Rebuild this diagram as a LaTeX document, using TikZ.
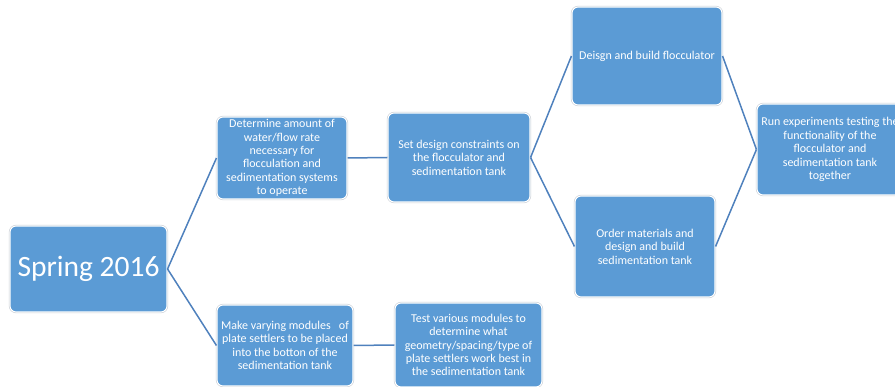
\documentclass[tikz,border=0pt]{standalone}
\usepackage{fontspec}
\setmainfont{Carlito}
\definecolor{boxfill}{RGB}{91,155,213}
\definecolor{linkcol}{RGB}{79,129,189}
\definecolor{rimcol}{RGB}{200,205,212}
\begin{document}
\begin{tikzpicture}[x=1pt,y=-1pt,
  box/.style={rectangle, rounded corners=6pt, fill=boxfill, draw=white, line width=1.1pt,
    preaction={draw=rimcol, line width=2.2pt},
    text=white, align=center, inner sep=0pt,
    font=\fontsize{12}{13.4}\selectfont},
  link/.style={draw=linkcol, line width=1.5pt}]
\useasboundingbox (0,0) rectangle (895,387);
\begin{scope}
\clip (0,0) rectangle (895,387);
\node[box, minimum width=157pt, minimum height=86pt, font=\fontsize{29.5}{31}\selectfont] (spring) at (88.5,269) {Spring 2016};
\node[box, minimum width=130pt, minimum height=82pt] (det) at (282,158) {Determine amount of\\water/flow rate\\necessary for\\flocculation and\\sedimentation systems\\to operate};
\node[box, minimum width=142pt, minimum height=89pt] (set) at (459,157.5) {Set design constraints on\\the flocculator and\\sedimentation tank};
\node[box, minimum width=150pt, minimum height=98pt] (floc) at (647,56) {Deisgn and build flocculator};
\node[box, minimum width=140pt, minimum height=101pt] (order) at (645,246.5) {Order materials and\\design and build\\sedimentation tank};
\node[box, minimum width=146pt, minimum height=91pt] (run) at (830,149.5) {Run experiments testing the\\functionality of the\\flocculator and\\sedimentation tank\\together};
\node[box, minimum width=136pt, minimum height=81pt] (make) at (285,345.5) {Make varying modules\ \ \ of\\plate settlers to be placed\\into the botton of the\\sedimentation tank};
\node[box, minimum width=147pt, minimum height=84pt] (test) at (468.5,345) {Test various modules to\\determine what\\geometry/spacing/type of\\plate settlers work best in\\the sedimentation tank};
\end{scope}
\draw[link] (spring.east) -- (det.west);
\draw[link] (spring.east) -- (make.west);
\draw[link] (det.east) -- (set.west);
\draw[link] (set.east) -- (floc.west);
\draw[link] (set.east) -- (order.west);
\draw[link] (floc.east) -- (run.west);
\draw[link] (order.east) -- (run.west);
\draw[link] (make.east) -- (test.west);
\end{tikzpicture}
\end{document}
